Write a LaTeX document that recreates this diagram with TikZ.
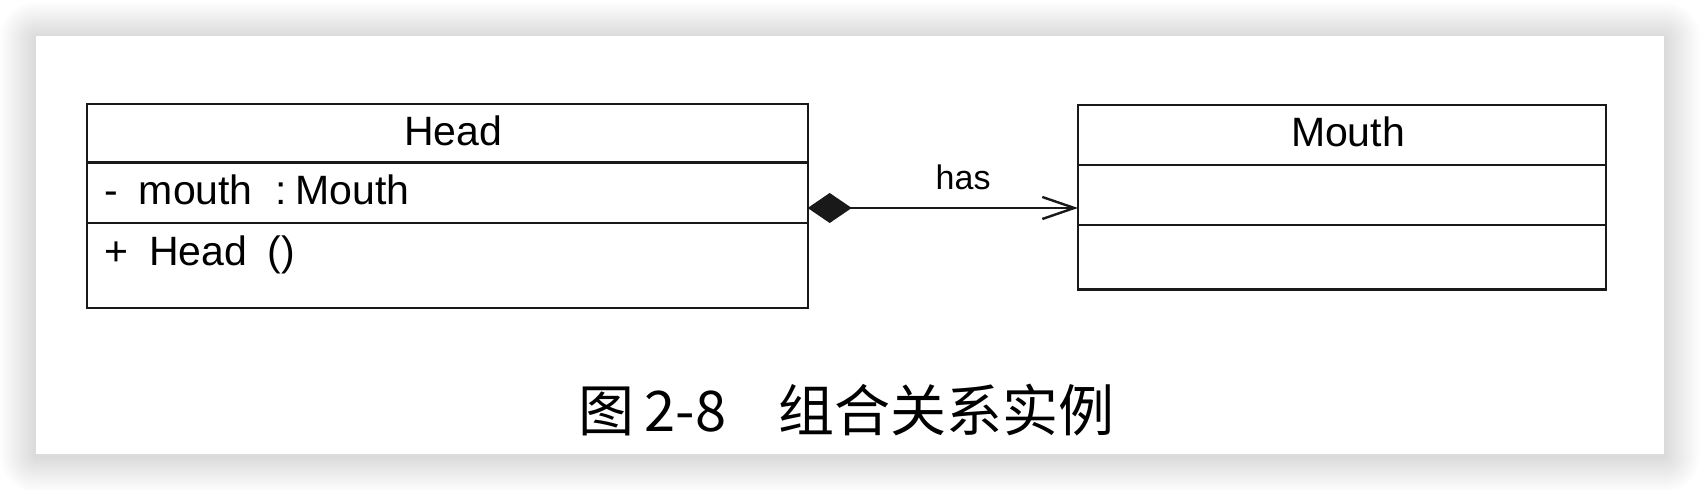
\documentclass[tikz,border=0pt]{standalone}
\usepackage{fontspec}
\setmainfont{Liberation Sans}
\newfontfamily\cjk{Noto Sans CJK SC}
\usetikzlibrary{positioning,arrows.meta}
\begin{document}
\begin{tikzpicture}[x=0.5pt,y=0.5pt,
    compart/.style={draw=black!90,line width=1.2pt,outer sep=0pt,inner xsep=9pt,inner ysep=0pt,text height=21pt,font=\fontsize{20.5pt}{24pt}\selectfont},
    compose/.style={draw=black!90,line width=1.2pt,{Diamond[length=22pt,width=15pt]}-{Straight Barb[length=16pt,width=11pt]}}]
    \useasboundingbox (0,0) rectangle (1700,490);
    \foreach \s in {1,...,18}
    \fill[black,opacity=0.008,rounded corners=\s pt] (36-2*\s,34-2*\s) rectangle (1664+2*\s,452+2*\s);
    \fill[white] (36,36) rectangle (1664,454);
    \node[compart,text width=342.5pt,align=center,text depth=8.35pt,anchor=north west] (headname) at (86.7,386) {\hspace{6pt}Head};
    \node[compart,text width=342.5pt,align=left,text depth=9.3pt,below=0pt of headname] (headattr) {-\enspace mouth\enspace\hspace{1pt}:\hspace{4.5pt}Mouth};
    \node[compart,text width=342.5pt,align=left,text depth=21.5pt,below=0pt of headattr] (headops) {+\enspace Head\enspace()};
    \node[compart,text width=246pt,align=center,text depth=9pt,anchor=north west] (mouthname) at (1078,385) {\hspace{6pt}Mouth};
    \node[compart,text width=246pt,text depth=9pt,below=0pt of mouthname] (mouthattr) {};
    \node[compart,text width=246pt,text depth=11.2pt,below=0pt of mouthattr] (mouthops) {};
    \coordinate (link) at ([yshift=-7.5pt]headattr.east);
    \draw[compose] (link) -- (link -| mouthattr.west) node[pos=0.575,above=8.5pt,inner sep=0pt,font=\fontsize{17pt}{20pt}\selectfont] (haslabel) {has};
    \node[font=\cjk\fontsize{28pt}{32pt}\selectfont] (caption) at (846.5,80) {图\hspace{5pt}2-8\hspace{26pt}组合关系实例};
\end{tikzpicture}
\end{document}
